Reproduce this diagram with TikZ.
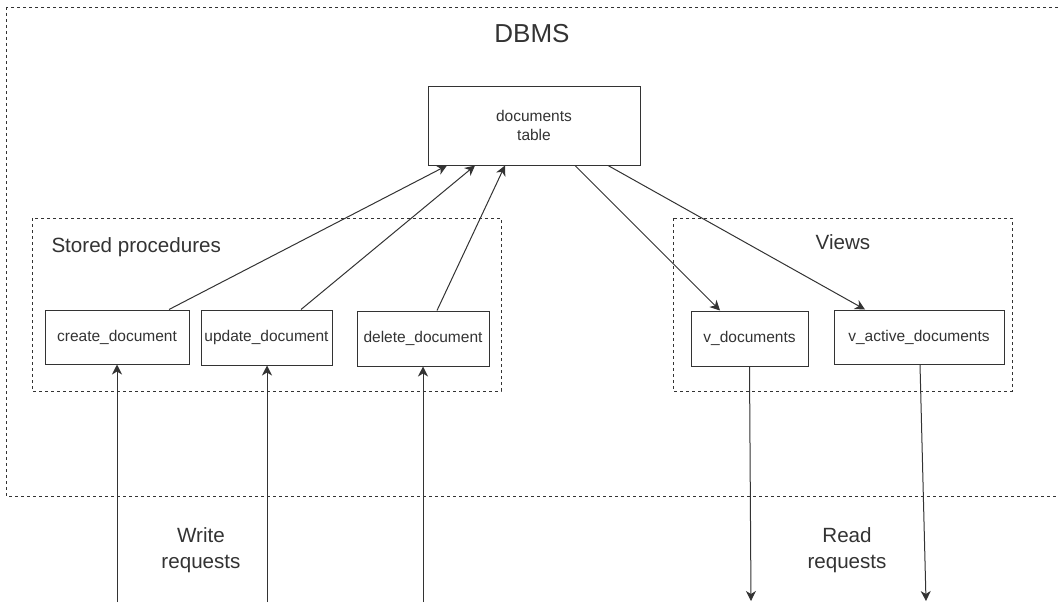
\documentclass[tikz,border=0pt]{standalone}
\usepackage{fontspec}
\setmainfont{Liberation Sans}
\usetikzlibrary{arrows.meta}
\definecolor{ink}{HTML}{333333}
\begin{document}
\begin{tikzpicture}[x=1pt, y=-1pt, line width=1pt, draw=ink, text=ink,
  box node/.style={rectangle,draw=ink,fill=white,inner sep=0pt,align=center,font=\fontsize{15.5}{18.6}\selectfont},
  group/.style={draw=ink,dash pattern=on 3pt off 3pt,line width=0.8pt},
  grp label/.style={font=\fontsize{20.6}{26}\selectfont,align=center,inner sep=0pt},
  link/.style={-{Stealth[length=10pt,width=10pt,inset=3pt]},ink,line width=1pt}]%
\useasboundingbox (0,0) rectangle (1059,602);
% frames
\draw[group] (6,7) rectangle (1075,496);
\draw[group] (32,218) rectangle (501,391);
\draw[group] (673,218) rectangle (1012,391);
\begin{scope}[every node/.style={grp label}]
\node (dbms) at (532,34) {\fontsize{26}{30}\selectfont DBMS};
\node[anchor=west] (sp) at (51,247) {Stored procedures};
\node (views) at (843,242) {Views};
\node (wr) at (201,550) {Write\\requests};
\node (rr) at (847,550) {Read\\requests};
\end{scope}
\begin{scope}
\node[box node,minimum width=212pt,minimum height=79pt] (tbl) at (534,125.5) {documents\\table};
\node[box node,minimum width=144pt,minimum height=54pt] (create) at (117,337) {create\_document};
\node[box node,minimum width=131pt,minimum height=55pt] (update) at (266.5,337.5) {update\_document};
\node[box node,minimum width=132pt,minimum height=55pt] (delete) at (423,338.5) {delete\_document};
\node[box node,minimum width=117pt,minimum height=55pt] (vdoc) at (749.5,338.5) {v\_documents};
\node[box node,minimum width=170pt,minimum height=54pt] (vact) at (919,337) {v\_active\_documents};
\end{scope}
\coordinate (w1) at (117,602);
\coordinate (w2) at (267,602);
\coordinate (w3) at (423,602);
\coordinate (r1) at (751,601);
\coordinate (r2) at (926,601);
\begin{scope}
\draw[link] ([xshift=52pt]create.north) -- ([xshift=-87pt]tbl.south);
\draw[link] ([xshift=34.5pt]update.north) -- ([xshift=-59pt]tbl.south);
\draw[link] ([xshift=14pt]delete.north) -- ([xshift=-29pt]tbl.south);
\draw[link] ([xshift=41pt]tbl.south) -- ([xshift=-29.5pt]vdoc.north);
\draw[link] ([xshift=74pt]tbl.south) -- ([xshift=-54pt]vact.north);
\draw[link] (w1) -- (create.south);
\draw[link] (w2) -- ([xshift=0.5pt]update.south);
\draw[link] (w3) -- (delete.south);
\draw[link] (vdoc.south) -- (r1);
\draw[link] ([xshift=1pt]vact.south) -- (r2);
\end{scope}
\end{tikzpicture}
\end{document}
